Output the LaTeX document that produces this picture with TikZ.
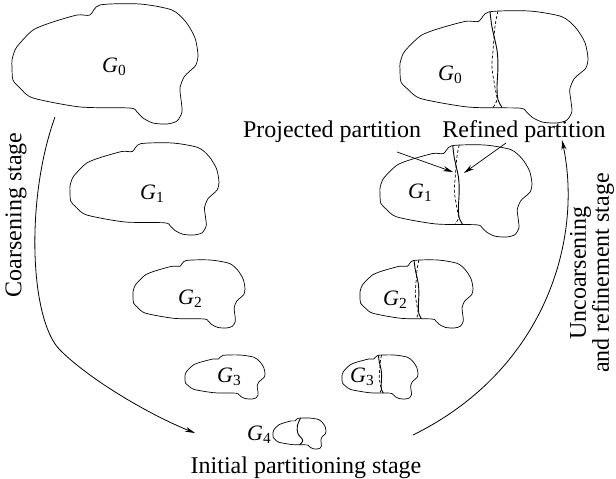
\documentclass[tikz,border=0pt]{standalone}
\usepackage{fontspec}
\setmainfont{Liberation Serif}
\usetikzlibrary{arrows.meta}

\newcommand{\gsub}[1]{\textit{G}\textsubscript{#1}}

% irregular region outline in unit coordinates (y grows downward)
\newcommand{\drawregion}{%
  \draw[outline] plot[smooth cycle, tension=0.45] coordinates {
    (0.473,0.008) (0.688,0.0) (0.860,0.050) (0.935,0.150) (0.984,0.283)
    (1.0,0.425) (0.989,0.508) (0.957,0.558) (0.925,0.608) (0.903,0.700)
    (0.909,0.800) (0.914,0.900) (0.887,0.975) (0.833,1.0) (0.758,0.992)
    (0.704,0.950) (0.672,0.900) (0.634,0.867) (0.366,0.858) (0.113,0.783)
    (0.043,0.700) (0.005,0.633) (0.0,0.525) (0.0,0.467) (0.016,0.383)
    (0.043,0.325) (0.113,0.217) (0.204,0.158) (0.349,0.092) (0.419,0.092)};}

\tikzset{
  outline/.style={line width=0.7pt, line join=round},
  newcut/.style={line width=0.9pt},
  oldcut/.style={line width=0.7pt, dash pattern=on 3pt off 2pt},
  txt/.style={font=\fontsize{24}{23}\selectfont, inner sep=0pt},
  glabel/.style={font=\fontsize{22}{24}\selectfont, inner sep=0pt, anchor=base west},
  pointer/.style={line width=0.7pt, -{Stealth[length=10pt,width=5pt]}},
  stagearrow/.style={line width=0.8pt, -{Stealth[length=10pt,width=5pt]}},
  blob/.pic={\drawregion},
  % outline with the refined (solid) and projected (dashed) cut
  splitblob/.pic={
    \drawregion
    \draw[newcut] plot[smooth, tension=0.5] coordinates {
      (0.479,0.01) (0.489,0.14) (0.516,0.35) (0.521,0.5) (0.516,0.68)
      (0.521,0.79) (0.543,0.862)};
    \draw[oldcut] plot[smooth, tension=0.5] coordinates {
      (0.521,0.0) (0.505,0.14) (0.495,0.35) (0.489,0.5) (0.505,0.68)
      (0.516,0.79) (0.495,0.862)};
  },
  % coarsest graph with its initial bisection
  initblob/.pic={
    \drawregion
    \draw[newcut] plot[smooth, tension=0.6] coordinates {
      (0.52,0.0) (0.46,0.25) (0.47,0.5) (0.56,0.72) (0.50,0.862)};
  }
}

\begin{document}
\begin{tikzpicture}[x=1pt, y=-1pt]
  \useasboundingbox (0,0) rectangle (616,479);

  % coarsening column
  \pic[xscale=186, yscale=120] at (12,4) {blob};
  \pic[xscale=149, yscale=92]  at (70,143) {blob};
  \pic[xscale=112, yscale=68]  at (133,260) {blob};
  \pic[xscale=80,  yscale=44]  at (185,355) {blob};

  % initial partition
  \pic[xscale=53, yscale=31] at (273,418) {initblob};

  % uncoarsening column
  \pic[xscale=188, yscale=112] at (400,11) {splitblob};
  \pic[xscale=152, yscale=92]  at (380,145) {splitblob};
  \pic[xscale=113, yscale=68]  at (360,260) {splitblob};
  \pic[xscale=76,  yscale=44]  at (342,355) {splitblob};

  % graph labels
  \node[glabel] (l0) at (102,72)  {\gsub{0}};
  \node[glabel] (l1) at (140,199) {\gsub{1}};
  \node[glabel] (l2) at (178,304) {\gsub{2}};
  \node[glabel] (l3) at (217,382) {\gsub{3}};
  \node[glabel] (l4) at (247,440) {\gsub{4}};
  \node[glabel] (r0) at (438,80)  {\gsub{0}};
  \node[glabel] (r1) at (408,198) {\gsub{1}};
  \node[glabel] (r2) at (383,305) {\gsub{2}};
  \node[glabel] (r3) at (350,382) {\gsub{3}};

  % stage captions
  \node[txt, rotate=90] (coarse) at (16,215) {Coarsening stage};
  \node[txt, anchor=base] (initial) at (306,473) {Initial partitioning stage};
  \node[txt, rotate=90, align=center] (uncoarse) at (592,273)
    {Uncoarsening\\and refinement stage};

  % cut annotations
  \node[txt, anchor=base] (proj) at (332,137) {Projected partition};
  \node[txt, anchor=base] (refd) at (524,137) {Refined partition};
  \coordinate (projfrom) at (397,152);
  \coordinate (projto)   at (453,172);
  \coordinate (refdfrom) at (506,143);
  \coordinate (refdto)   at (464,173);
  \draw[pointer] (projfrom) -- (projto);
  \draw[pointer] (refdfrom) -- (refdto);

  % stage arrows
  \coordinate (cA) at (55,117);
  \coordinate (cM) at (60,350);
  \coordinate (cB) at (195,433);
  \draw[stagearrow] (cA) .. controls (25,200) and (30,320) .. (cM)
                         .. controls (90,380) and (150,415) .. (cB);
  \coordinate (uA) at (413,435);
  \coordinate (uB) at (562,140);
  \draw[stagearrow] (uA) .. controls (545,370) and (583,240) .. (uB);
\end{tikzpicture}
\end{document}
